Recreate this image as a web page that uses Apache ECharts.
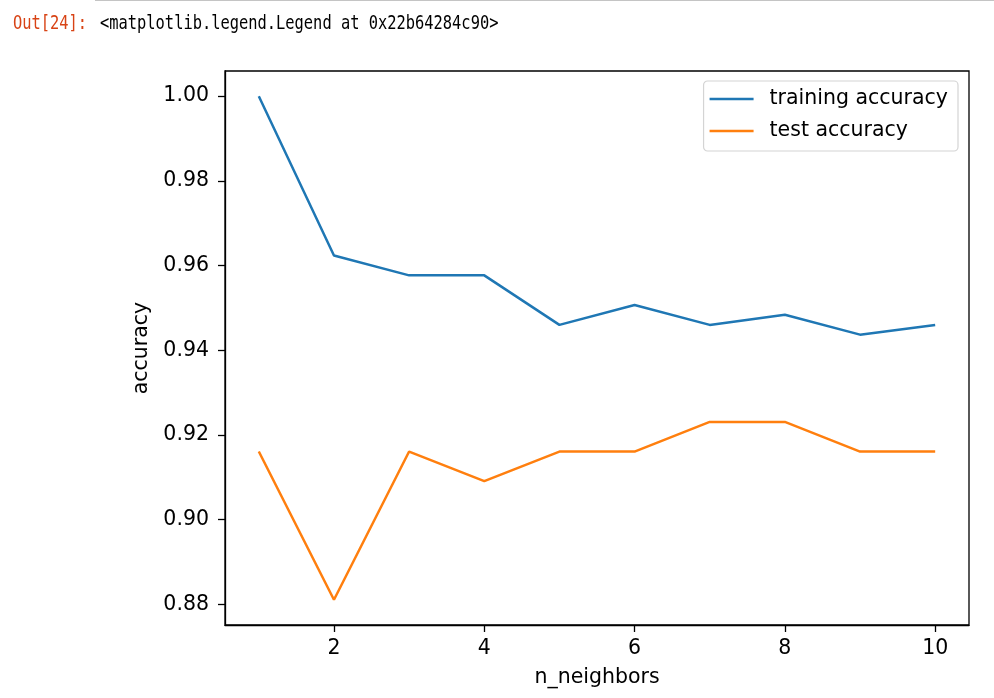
<!DOCTYPE html>
<html>
<head>
<meta charset="utf-8">
<script src="https://cdn.jsdelivr.net/npm/echarts@6/dist/echarts.min.js"></script>
<style>
html,body{margin:0;padding:0;background:#fff;width:994px;height:698px;overflow:hidden;}
#chart{position:absolute;left:0;top:0;width:994px;height:698px;}
.hdr{position:absolute;font-family:'DejaVu Sans Mono','Liberation Mono',monospace;font-size:15.4px;line-height:1;white-space:pre;transform:scaleY(1.3);transform-origin:0 13px;}
#rule{position:absolute;left:95px;top:0;width:899px;height:1px;background:#c4c4c4;}
</style>
</head>
<body>
<div id="chart"></div>
<div id="rule"></div>
<div class="hdr" style="left:13px;top:17px;color:#D84315;">Out[24]:</div>
<div class="hdr" style="left:100px;top:17px;color:#000;">&lt;matplotlib.legend.Legend at 0x22b64284c90&gt;</div>
<script>
const nNeighbors = [1, 2, 3, 4, 5, 6, 7, 8, 9, 10];
const trainingAccuracy = [1.0, 0.9624, 0.9577, 0.9577, 0.9460, 0.9507, 0.9460, 0.9484, 0.9437, 0.9460];
const testAccuracy = [0.9161, 0.8811, 0.9161, 0.9091, 0.9161, 0.9161, 0.9231, 0.9231, 0.9161, 0.9161];
const xTicks = [2, 4, 6, 8, 10];
const yTicks = [0.88, 0.90, 0.92, 0.94, 0.96, 0.98, 1.00];
const seriesNames = ['training accuracy', 'test accuracy'];

const FONT = 'DejaVu Sans';
const FS = 20.5;
const chart = echarts.init(document.getElementById('chart'), null, {renderer: 'canvas'});
const axisCommon = {
  axisLine: {show: true, lineStyle: {color: '#000', width: 1.3}},
  splitLine: {show: false},
};
chart.setOption({
  animation: false,
  backgroundColor: '#fff',
  grid: {left: 225, right: 25, top: 71, bottom: 73, show: true, borderColor: '#000', borderWidth: 1.3},
  xAxis: Object.assign({}, axisCommon, {
    type: 'value', min: 0.55, max: 10.45,
    axisTick: {show: true, customValues: xTicks, length: 7, lineStyle: {color: '#000', width: 1.3}},
    axisLabel: {customValues: xTicks, margin: 13, fontSize: FS, fontFamily: FONT, color: '#000'},
    name: 'n_neighbors', nameLocation: 'middle', nameGap: 42,
    nameTextStyle: {fontSize: FS, fontFamily: FONT, color: '#000'}
  }),
  yAxis: Object.assign({}, axisCommon, {
    type: 'value', min: 0.87515, max: 1.00594,
    axisTick: {show: true, customValues: yTicks, length: 7, lineStyle: {color: '#000', width: 1.3}},
    axisLabel: {customValues: yTicks, margin: 16, fontSize: FS, fontFamily: FONT, color: '#000',
      formatter: v => v.toFixed(2)},
    name: 'accuracy', nameLocation: 'middle', nameGap: 64, nameRotate: 90,
    nameTextStyle: {fontSize: FS, fontFamily: FONT, color: '#000'}
  }),
  legend: {
    data: seriesNames, orient: 'vertical', right: 36, top: 81,
    icon: 'rect', itemWidth: 44, itemHeight: 2.5, itemGap: 10,
    padding: [7, 10, 9, 6],
    borderColor: '#d4d4d4', borderWidth: 1.2, borderRadius: 4, backgroundColor: 'rgba(255,255,255,0.8)',
    textStyle: {fontSize: FS, fontFamily: FONT, color: '#000', lineHeight: 22, padding: [0, 0, 0, 11]}
  },
  series: [
    {name: seriesNames[0], type: 'line', showSymbol: false, symbol: 'none',
     data: nNeighbors.map((x, i) => [x, trainingAccuracy[i]]),
     itemStyle: {color: '#1f77b4'}, lineStyle: {color: '#1f77b4', width: 2.5}},
    {name: seriesNames[1], type: 'line', showSymbol: false, symbol: 'none',
     data: nNeighbors.map((x, i) => [x, testAccuracy[i]]),
     itemStyle: {color: '#ff7f0e'}, lineStyle: {color: '#ff7f0e', width: 2.5}}
  ]
});
</script>
</body>
</html>
